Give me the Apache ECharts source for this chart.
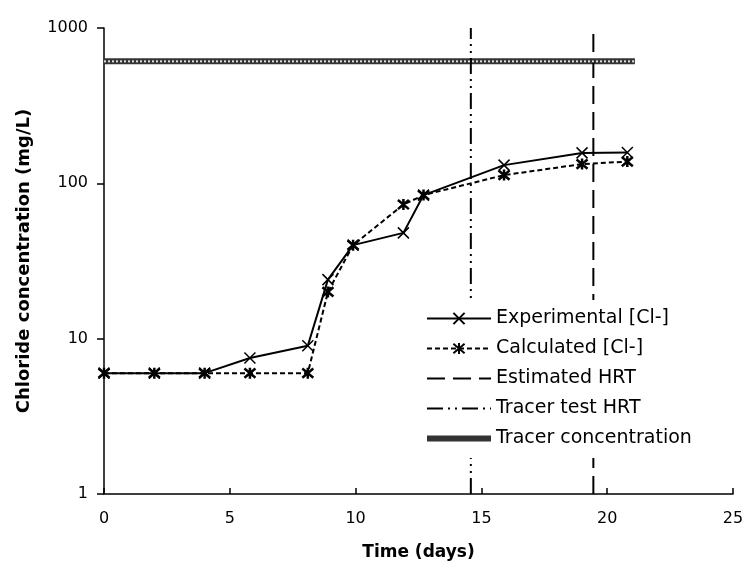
<!DOCTYPE html>
<html><head><meta charset="utf-8">
<script src="https://cdn.jsdelivr.net/npm/echarts@6/dist/echarts.min.js"></script>
<style>html,body{margin:0;padding:0;background:#fff}#c{width:745px;height:563px}</style>
</head><body><div id="c"></div>
<script>
const timeDays = [0, 2, 4, 5.8, 8.1, 8.9, 9.9, 11.9, 12.7, 15.9, 19.0, 20.8];
const experimentalCl = [6, 6, 6, 7.5, 9, 24, 40, 48, 84, 131, 157, 158];
const calculatedCl = [6, 6, 6, 6, 6, 20, 40, 73, 84, 113, 133, 138];
const estimatedHRT = 19.45;
const tracerTestHRT = 14.58;
const tracerConc = 610;
const tracerRange = [0, 21.1];
const xTicks = [0, 5, 10, 15, 20, 25];
const yTicks = [1, 10, 100, 1000];

const pair = (xs, ys) => xs.map((x, i) => [x, ys[i]]);
const crossPath = 'path://M0,0L10,10M10,0L0,10';
const starPath = 'path://M0,0L10,10M10,0L0,10M5,-1L5,11';
const font = '"DejaVu Sans", Verdana, sans-serif';

const chart = echarts.init(document.getElementById('c'), null, {renderer: 'canvas'});
chart.setOption({
  animation: false,
  backgroundColor: '#fff',
  textStyle: {fontFamily: font, color: '#000'},
  grid: {left: 104, right: 12, top: 28, bottom: 69, containLabel: false, outerBoundsMode: 'none'},
  legend: {
    orient: 'vertical', left: 420, top: 300,
    itemWidth: 64, itemHeight: 14, itemGap: 11,
    backgroundColor: '#fff', padding: [9, 8, 10, 4],
    textStyle: {fontSize: 19, lineHeight: 19, fontFamily: font, color: '#000'},
    data: [
      {name: 'Experimental [Cl-]'},
      {name: 'Calculated [Cl-]'},
      {name: 'Estimated HRT', itemStyle: {opacity: 0}},
      {name: 'Tracer test HRT', itemStyle: {opacity: 0}},
      {name: 'Tracer concentration', itemStyle: {opacity: 0}, lineStyle: {width: 6, color: '#333'}}
    ]
  },
  xAxis: {
    type: 'value', min: 0, max: 25, interval: 5,
    name: 'Time (days)', nameLocation: 'middle', nameGap: 50,
    nameTextStyle: {fontSize: 17, fontWeight: 'bold', fontFamily: font, color: '#000'},
    axisLine: {onZero: false, lineStyle: {color: '#000', width: 1.5}},
    axisTick: {inside: true, length: 6, lineStyle: {color: '#000', width: 1.5}},
    axisLabel: {fontSize: 16, color: '#000', margin: 17, fontFamily: font, formatter: v => xTicks.includes(v) ? String(v) : ''},
    splitLine: {show: false}
  },
  yAxis: {
    type: 'log', logBase: 10, min: 1, max: 1000,
    name: 'Chloride concentration (mg/L)', nameLocation: 'middle', nameGap: 71, nameRotate: 90,
    nameTextStyle: {fontSize: 18, fontWeight: 'bold', fontFamily: font, color: '#000'},
    axisLine: {lineStyle: {color: '#000', width: 1.5}},
    axisTick: {inside: false, length: 7, lineStyle: {color: '#000', width: 1.5}},
    axisLabel: {fontSize: 16, color: '#000', margin: 16, fontFamily: font, formatter: v => yTicks.includes(Math.round(v)) ? String(Math.round(v)) : ''},
    splitLine: {show: false}
  },
  series: [
    {
      name: 'Tracer concentration', type: 'line', z: 1,
      data: pair(tracerRange, [tracerConc, tracerConc]),
      symbol: 'none', color: '#333',
      lineStyle: {color: '#333', width: 6, type: 'solid'}
    },
    {
      name: 'tracer-hatch', type: 'line', z: 2, silent: true,
      data: pair(tracerRange, [tracerConc, tracerConc]),
      symbol: 'none', color: '#fff',
      lineStyle: {color: '#ddd', width: 2, type: [2, 2]}
    },
    {
      name: 'Tracer test HRT', type: 'line', z: 1,
      data: pair([tracerTestHRT, tracerTestHRT], [1, 1000]),
      symbol: 'none', color: '#000',
      lineStyle: {color: '#000', width: 2, type: [16, 5, 2, 5, 2, 5]}
    },
    {
      name: 'Estimated HRT', type: 'line', z: 1,
      data: pair([estimatedHRT, estimatedHRT], [1, 1000]),
      symbol: 'none', color: '#000',
      lineStyle: {color: '#000', width: 2, type: [18, 8]}
    },
    {
      name: 'Calculated [Cl-]', type: 'line', z: 3,
      data: pair(timeDays, calculatedCl),
      symbol: starPath, symbolSize: 11, color: '#000',
      itemStyle: {color: '#000', borderColor: '#000', borderWidth: 2.5},
      lineStyle: {color: '#000', width: 2, type: [5, 3]}
    },
    {
      name: 'Experimental [Cl-]', type: 'line', z: 4,
      data: pair(timeDays, experimentalCl),
      symbol: crossPath, symbolSize: 11, color: '#000',
      itemStyle: {color: '#000', borderColor: '#000', borderWidth: 1.5},
      lineStyle: {color: '#000', width: 2, type: 'solid'}
    }
  ]
});
</script></body></html>
